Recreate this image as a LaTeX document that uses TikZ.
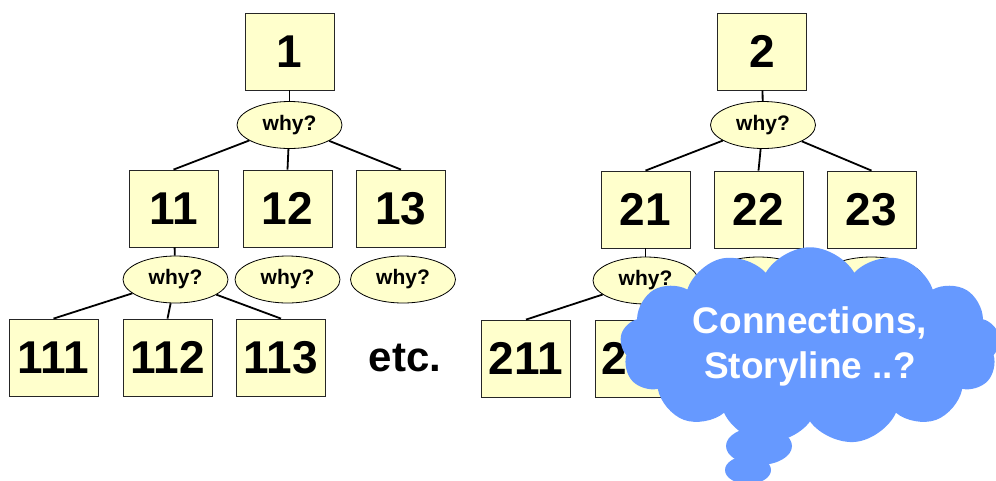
\documentclass[tikz,border=0pt]{standalone}
\usepackage{fontspec}
\setmainfont{Liberation Sans}
\usetikzlibrary{shapes.geometric,shapes.symbols,positioning}
\definecolor{paleyellow}{HTML}{FFFFCC}
\definecolor{cloudblue}{HTML}{6699FF}

\begin{document}
\begin{tikzpicture}[x=1pt, y=-1pt,
    num/.style = {draw=black!85, line width=0.8pt, fill=paleyellow, minimum width=89pt, minimum height=77pt, inner sep=0pt, font=\bfseries\fontsize{46}{54}\selectfont},
    why/.style = {draw, ellipse, line width=0.8pt, fill=paleyellow, minimum width=105pt, minimum height=47pt, inner sep=0pt, font=\bfseries\fontsize{21}{24}\selectfont},
    link/.style = {line width=1.8pt},
    puff/.style = {ellipse, fill=cloudblue, inner sep=0pt}]
  \useasboundingbox (0,0) rectangle (996,480);
  \clip (0,0) rectangle (996,480);
  % first tree
  \node[num] (1) at (289.5,51.5) {1};
  \node[why] (w1) [node distance=73.5pt, below of=1] {why?};
  \node[num] (12) [node distance=83.5pt, below of=w1, xshift=-2pt] {12};
  \node[num] (11) [node distance=114pt, left of=12] {11};
  \node[num] (13) [node distance=113.5pt, right of=12] {13};
  \node[why] (w11) [node distance=71pt, below of=11, xshift=2pt] {why?};
  \node[why] (w12) [node distance=71pt, below of=12] {why?};
  \node[why] (w13) [node distance=71pt, below of=13, xshift=2pt] {why?};
  \node[num] (112) [node distance=78pt, below of=w11, xshift=-8pt] {112};
  \node[num] (111) [node distance=114pt, left of=112] {111};
  \node[num] (113) [node distance=113.5pt, right of=112] {113};
  \node (etc) [node distance=124pt, right of=113, font=\bfseries\fontsize{42}{50}\selectfont] {etc.};
  %
  \draw[link] (1) -- (w1);
  \draw[link] (w1) -- (11.north) (w1) -- (12.north) (w1) -- (13.north);
  \draw[link] (11) -- (w11);
  \draw[link] (w11) -- (111.north) (w11) -- (112.north) (w11) -- (113.north);
  % second tree
  \node[num] (2) at (762,51.5) {2};
  \node[why] (w2) [node distance=73.5pt, below of=2, xshift=1pt] {why?};
  \node[num] (22) [node distance=84.5pt, below of=w2, xshift=-4.5pt] {22};
  \node[num] (21) [node distance=113pt, left of=22] {21};
  \node[num] (23) [node distance=113pt, right of=22] {23};
  \node[why] (w21) [node distance=71pt, below of=21] {why?};
  \node[why] (w22) [node distance=71pt, below of=22] {why?};
  \node[why] (w23) [node distance=71pt, below of=23] {why?};
  \node[num] (212) [node distance=78pt, below of=w21, xshift=-6pt] {212};
  \node[num] (211) [node distance=113.5pt, left of=212] {211};
  %
  \draw[link] (2) -- (w2);
  \draw[link] (w2) -- (21.north) (w2) -- (22.north) (w2) -- (23.north);
  \draw[link] (21) -- (w21);
  \draw[link] (w21) -- (211.north) (w21) -- (212.north);
  % thought cloud
  \node[puff, minimum width=66pt, minimum height=38pt] (puff1) at (759,446) {};
  \node[puff, minimum width=46pt, minimum height=28pt] (puff2) at (748,470) {};
  \node[cloud, cloud puffs=13, cloud puff arc=120, aspect=2.2, fill=cloudblue, minimum width=380pt, minimum height=190pt,
        text=white, align=center, font=\bfseries\fontsize{37}{45}\selectfont] (cloud) at (810,346) {Connections,\\Storyline ..?};
\end{tikzpicture}
\end{document}
